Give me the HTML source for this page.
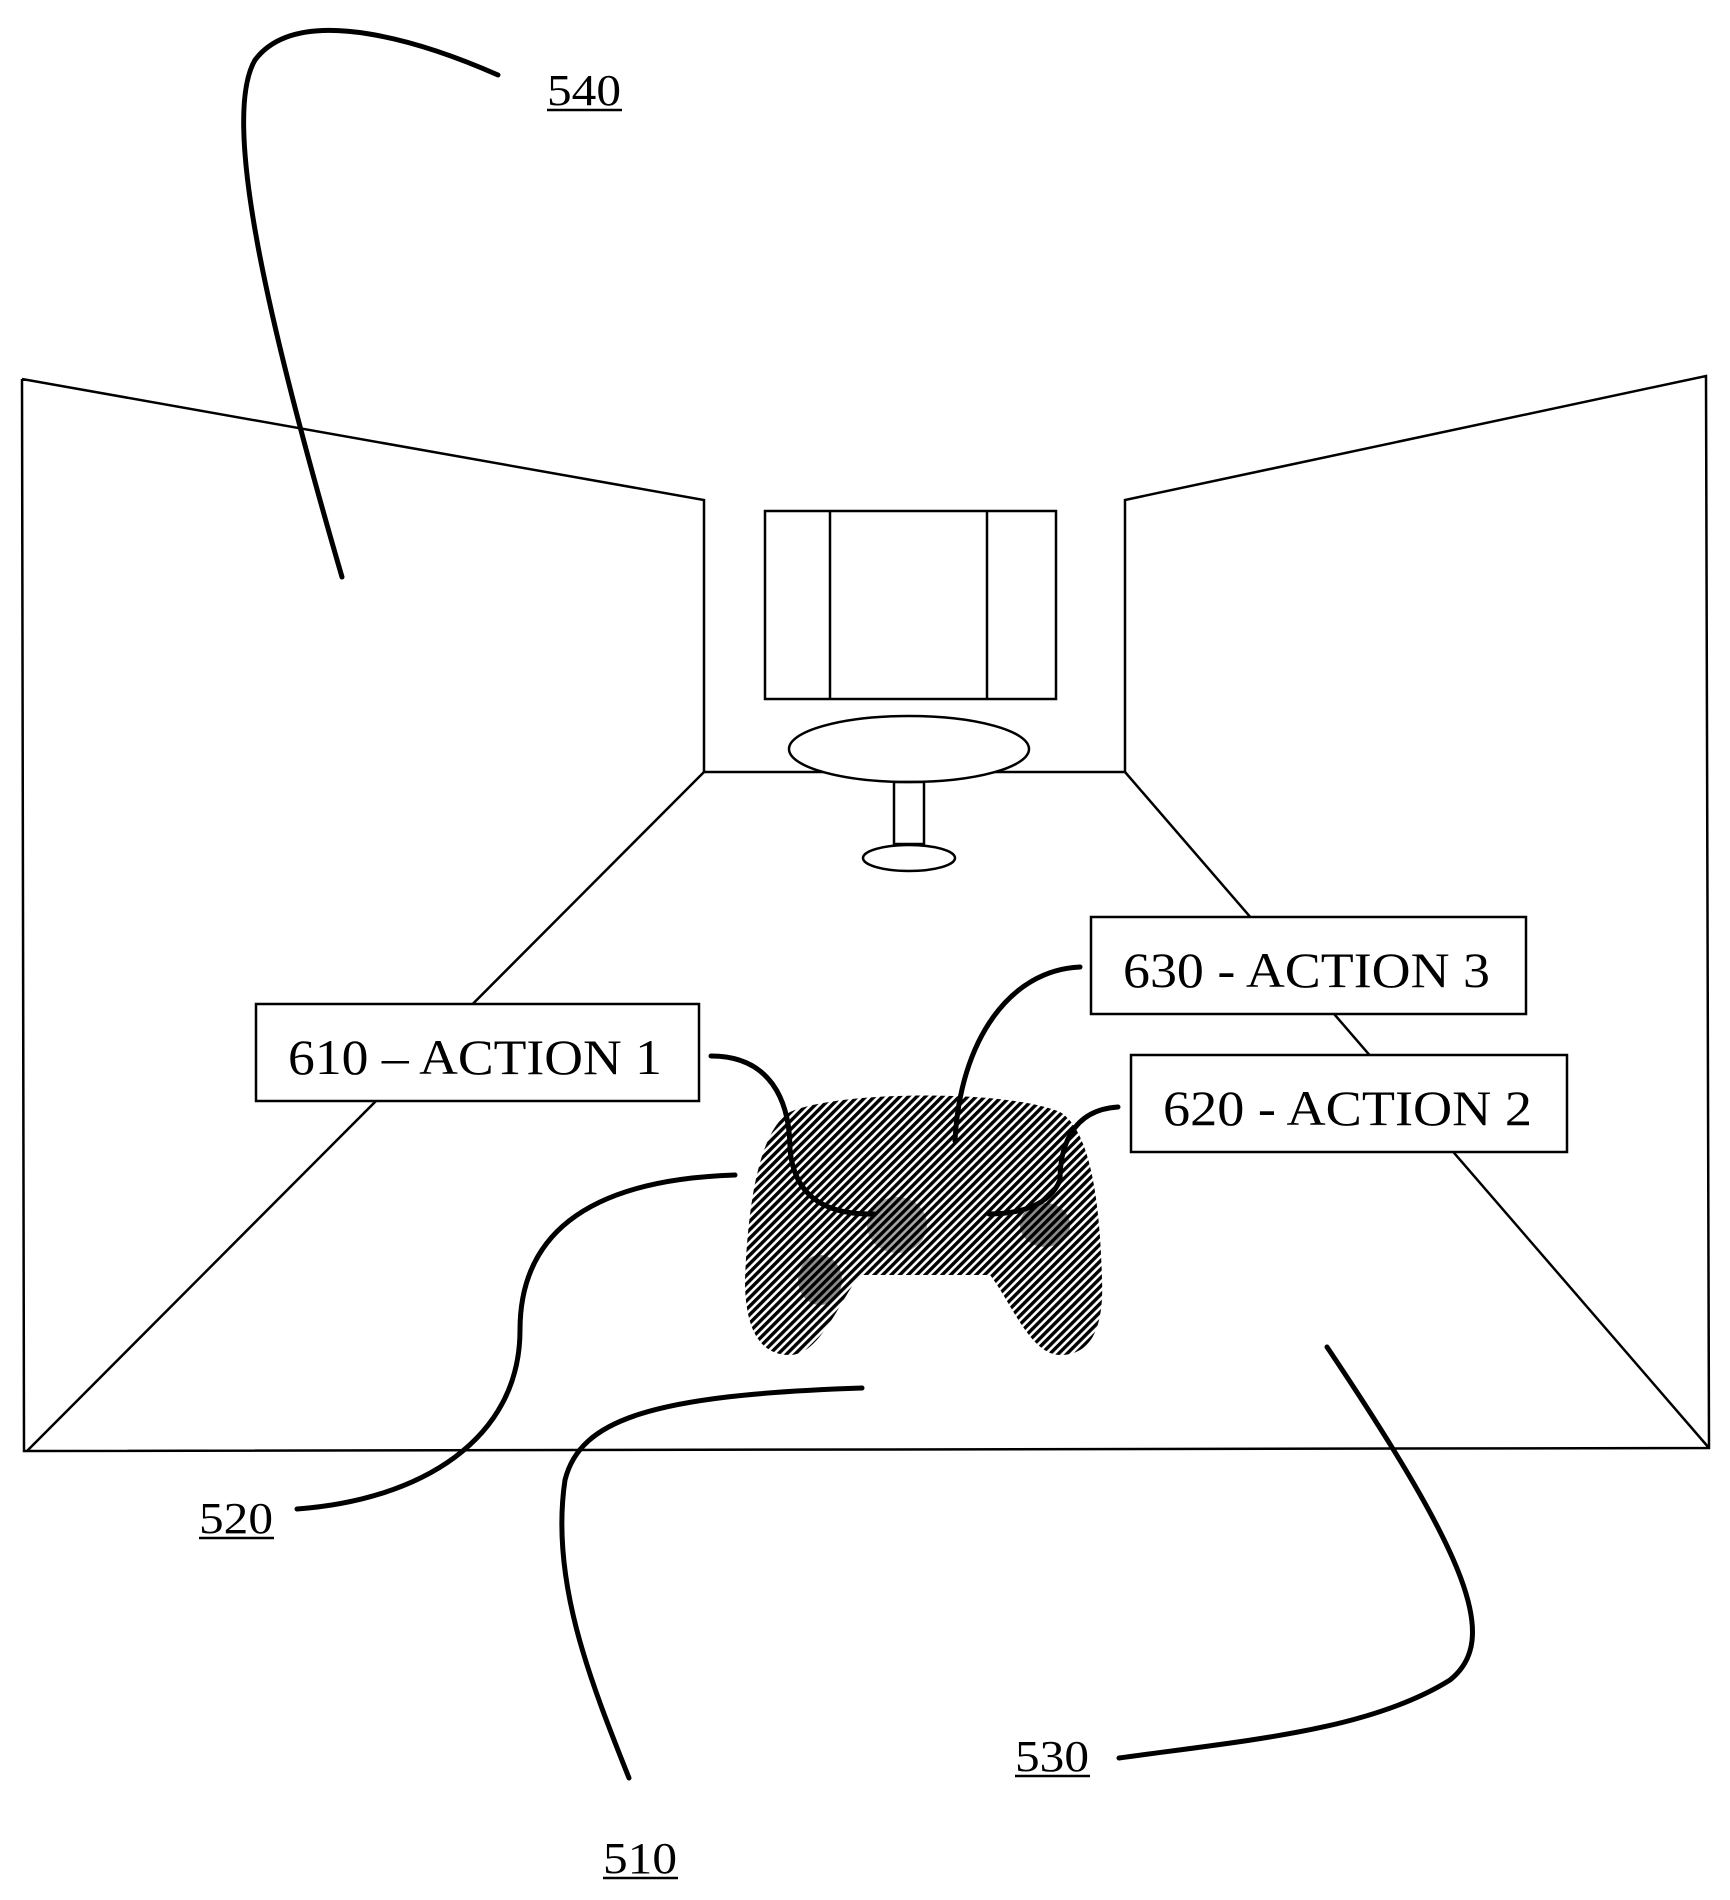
<!DOCTYPE html>
<html><head><meta charset="utf-8"><style>
body{margin:0;background:#fff}
svg{display:block}
text{font-family:"Liberation Serif",serif;fill:#000}
</style></head><body>
<svg width="1730" height="1900" viewBox="0 0 1730 1900" xmlns="http://www.w3.org/2000/svg">
<g fill="none" stroke="#000" stroke-width="2.5">
<polyline points="22,379 704,500 704,772 1125,772 1125,500 1706,376 1709,1448 24,1451 22,379"/>
<line x1="704" y1="772" x2="27" y2="1451"/>
<line x1="1125" y1="772" x2="1709" y2="1448"/>
<rect x="765" y="511" width="291" height="188"/>
<line x1="830" y1="511" x2="830" y2="699"/>
<line x1="987" y1="511" x2="987" y2="699"/>
<ellipse cx="909" cy="749" rx="120" ry="33" fill="#fff"/>
<rect x="894" y="782" width="30" height="62"/>
<ellipse cx="909" cy="858" rx="46" ry="13" fill="#fff"/>
</g>
<defs><pattern id="ht" width="6" height="6" patternUnits="userSpaceOnUse" patternTransform="rotate(45)"><rect width="6" height="6" fill="#fff"/><rect width="3.4" height="6" fill="#000"/></pattern></defs>
<path d="M790,1112 C840,1090 1010,1090 1060,1112 C1090,1130 1100,1200 1102,1280 C1104,1330 1090,1355 1060,1355 C1030,1355 1010,1300 990,1275 L860,1275 C840,1300 820,1355 790,1355 C760,1355 745,1330 745,1280 C748,1200 760,1130 790,1112 Z" fill="url(#ht)"/>
<ellipse cx="897" cy="1225" rx="30" ry="28" fill="#000" opacity="0.35"/>
<ellipse cx="1045" cy="1225" rx="25" ry="22" fill="#000" opacity="0.45"/>
<ellipse cx="820" cy="1280" rx="22" ry="25" fill="#000" opacity="0.45"/>
<g fill="#fff" stroke="#000" stroke-width="2.5">
<rect x="256" y="1004" width="443" height="97"/>
<rect x="1091" y="917" width="435" height="97"/>
<rect x="1131" y="1055" width="436" height="97"/>
</g>
<g fill="none" stroke="#000" stroke-width="5" stroke-linecap="round">
<path d="M498,75 C430,45 300,0 255,60 C220,120 270,330 342,577"/>
<path d="M297,1509 C420,1500 520,1440 520,1330 C520,1240 580,1180 735,1175"/>
<path d="M629,1778 C590,1680 550,1580 565,1480 C580,1420 650,1395 862,1388"/>
<path d="M1119,1758 C1250,1740 1370,1730 1450,1680 C1500,1640 1470,1560 1327,1347"/>
<path d="M711,1056 C770,1056 790,1100 790,1150 C795,1200 830,1215 874,1214"/>
<path d="M1080,967 C1010,970 960,1040 955,1141"/>
<path d="M1118,1107 C1070,1110 1060,1150 1060,1180 C1050,1205 1020,1214 989,1214"/>
</g>
<g font-size="50">
<text x="288" y="1074" textLength="374" lengthAdjust="spacingAndGlyphs">610 – ACTION 1</text>
<text x="1123" y="987" textLength="367" lengthAdjust="spacingAndGlyphs">630 - ACTION 3</text>
<text x="1163" y="1125" textLength="369" lengthAdjust="spacingAndGlyphs">620 - ACTION 2</text>
</g>
<g font-size="44">
<text x="547" y="105" textLength="74" lengthAdjust="spacingAndGlyphs">540</text>
<text x="199" y="1533" textLength="74" lengthAdjust="spacingAndGlyphs">520</text>
<text x="603" y="1873" textLength="74" lengthAdjust="spacingAndGlyphs">510</text>
<text x="1015" y="1771" textLength="74" lengthAdjust="spacingAndGlyphs">530</text>
</g>
<g stroke="#000" stroke-width="2.5">
<line x1="547" y1="110" x2="622" y2="110"/>
<line x1="199" y1="1538" x2="274" y2="1538"/>
<line x1="603" y1="1878" x2="678" y2="1878"/>
<line x1="1015" y1="1776" x2="1090" y2="1776"/>
</g>
</svg>
</body></html>
